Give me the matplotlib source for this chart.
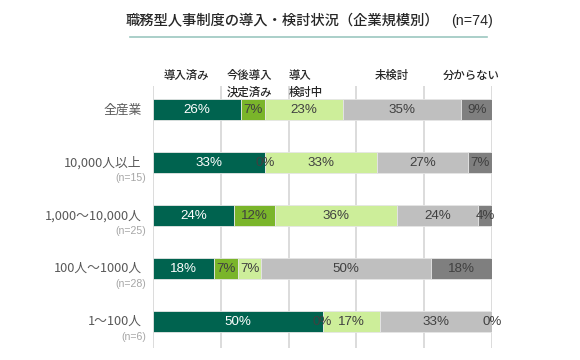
import numpy as np
import matplotlib
matplotlib.use("Agg")
import matplotlib.pyplot as plt
from matplotlib.lines import Line2D

plt.rcParams['font.family'] = ['Noto Sans CJK JP', 'DejaVu Sans']

# data
categories = ["全産業", "10,000人以上", "1,000～10,000人", "100人～1000人", "1～100人"]
sample_sizes = ["", "(n=15)", "(n=25)", "(n=28)", "(n=6)"]
series_names = ["導入済み", "今後導入\n決定済み", "導入\n検討中", "未検討", "分からない"]
introduced = [26, 33, 24, 18, 50]
decided = [7, 0, 12, 7, 0]
considering = [23, 33, 36, 7, 17]
not_considered = [35, 27, 24, 50, 33]
unknown = [9, 7, 4, 18, 0]

title = "職務型人事制度の導入・検討状況（企業規模別）"
total_n = "(n=74)"

colors = ["#00634f", "#7ab52a", "#cdee9a", "#bfbfbf", "#7f7f7f"]
text_colors = ["white", "#404040", "#404040", "#404040", "#404040"]

W, H = 580, 360
fig = plt.figure(figsize=(W / 100, H / 100), dpi=100)

x0, x1 = 153, 492
y_top, y_bot = 86, 348
ax = fig.add_axes([x0 / W, 1 - y_bot / H, (x1 - x0) / W, (y_bot - y_top) / H])

rows = np.arange(len(categories))
series = [introduced, decided, considering, not_considered, unknown]
left = np.zeros(len(categories))
for vals, col, tcol in zip(series, colors, text_colors):
    vals = np.array(vals, dtype=float)
    ax.barh(rows, vals, left=left, height=0.4, color=col,
            edgecolor="#e6e6e6", linewidth=0.6, zorder=3)
    for r, v, l in zip(rows, vals, left):
        ax.text(l + v / 2, r, f"{int(v)}%", ha="center", va="center",
                color=tcol, fontsize=9.6, family=["Liberation Sans", "DejaVu Sans"],
                zorder=4)
    left += vals

ax.set_xlim(0, 100)
ax.set_ylim(len(categories) - 0.5 + 0.0, -0.45)
ax.set_xticks(np.arange(0, 101, 20))
ax.set_yticks([])
ax.tick_params(axis="x", length=0, labelbottom=False)
ax.grid(axis="x", color="#d9d9d9", linewidth=1.3, zorder=0)
for s in ax.spines.values():
    s.set_visible(False)

# category labels
for r, (cat, n) in enumerate(zip(categories, sample_sizes)):
    ax.text(-3.3, r, cat, ha="right", va="center", fontsize=9.2,
            color="#595959", transform=ax.transData)
    if n:
        ax.text(-2.1, r + 0.29, n, ha="right", va="center", fontsize=7.6,
                color="#a6a6a6", family=["Liberation Sans", "DejaVu Sans"])

# header labels
hdr = [(186, "center", series_names[0]), (227, "left", series_names[1]),
       (289, "left", series_names[2]), (392, "center", series_names[3]),
       (471, "center", series_names[4])]
for hx, ha, txt in hdr:
    fig.text(hx / W, 1 - 69 / H, txt, ha=ha, va="top", fontsize=8.2,
             color="#262626", linespacing=1.4, fontweight="medium")

# title
fig.text(126 / W, 1 - 21 / H, title, ha="left", va="center", fontsize=10.3,
         color="#262626", fontweight="medium")
fig.text(493 / W, 1 - 21 / H, total_n, ha="right", va="center", fontsize=10.3,
         color="#262626", family=["Liberation Sans", "DejaVu Sans"])
fig.add_artist(Line2D([130 / W, 487 / W], [1 - 37 / H, 1 - 37 / H],
                      color="#9cc7c0", linewidth=1.2))

fig.savefig("out.png", dpi=100)
